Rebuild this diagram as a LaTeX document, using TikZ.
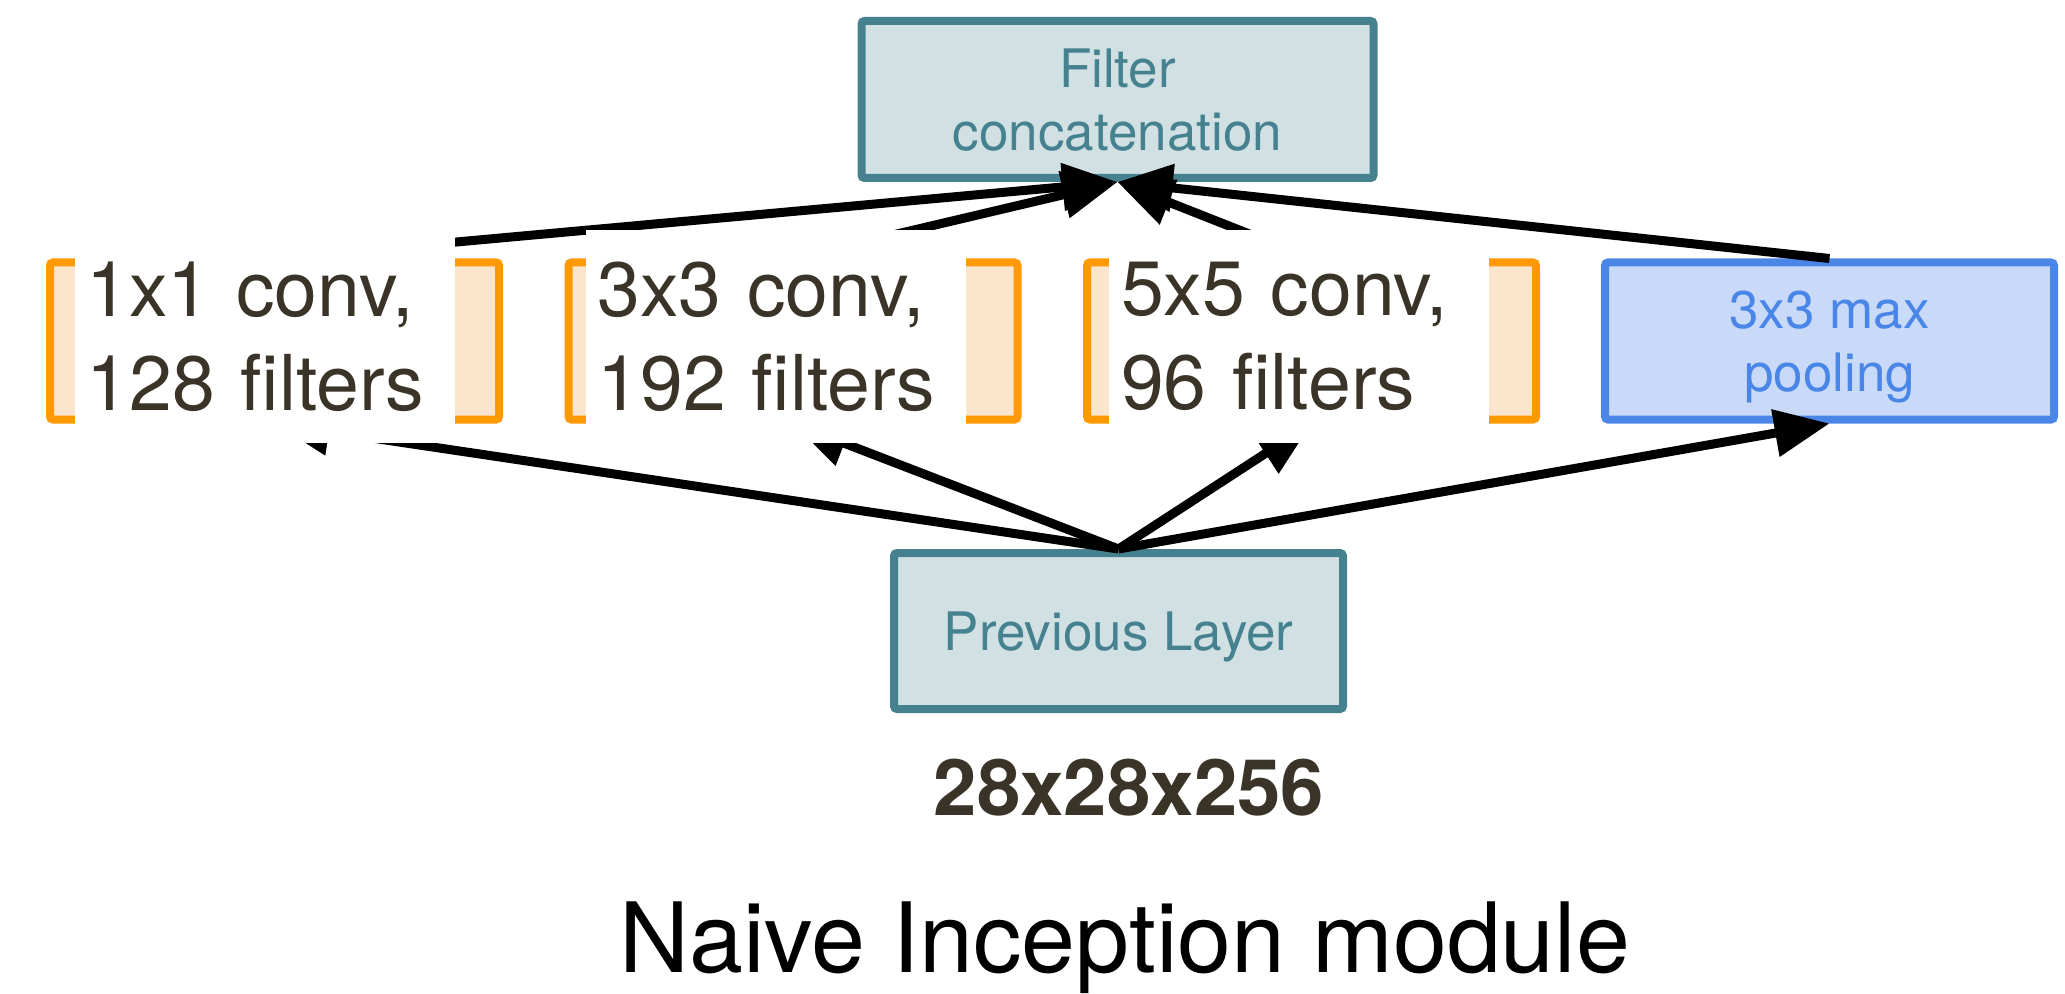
\documentclass[tikz,border=0pt]{standalone}
\usepackage{fontspec}
\setmainfont{TeX Gyre Heros}
\usetikzlibrary{arrows.meta}
\definecolor{tealline}{HTML}{45818E}
\definecolor{tealfill}{HTML}{D0E0E3}
\definecolor{orangeline}{HTML}{FF9900}
\definecolor{orangefill}{HTML}{FCE5CD}
\definecolor{blueline}{HTML}{4A86E8}
\definecolor{bluefill}{HTML}{C9DAF8}
\definecolor{labelink}{HTML}{3A3327}

\begin{document}
\begin{tikzpicture}[x=0.5pt,y=-0.5pt,
  box/.style={draw, line width=4pt, rounded corners=1.5pt,
    minimum width=224.5pt, minimum height=78.5pt, inner sep=0pt,
    align=center, text depth=0pt, font=\fontsize{26.5}{31.5}\selectfont},
  layerbox/.style={box, draw=tealline, fill=tealfill, text=tealline},
  convbox/.style={box, draw=orangeline, fill=orangefill},
  poolbox/.style={box, draw=blueline, fill=bluefill, text=blueline},
  convlabel/.style={fill=white, minimum width=190pt, minimum height=106.5pt,
    inner xsep=6pt, inner ysep=0pt, text width=178pt, align=left,
    text=labelink, font=\fontsize{38.5}{47}\selectfont},
  flow/.style={line width=4.5pt, -{Triangle[length=27.5pt,width=23pt]}},
]
\useasboundingbox (0,0) rectangle (2065,994);

% layer boxes
\node[layerbox, minimum width=256pt] (concat) at (1117.5,99.5) {Filter\\concatenation};
\node[convbox] (c1) at (274.5,341) {};
\node[convbox] (c2) at (793,341) {};
\node[convbox] (c3) at (1311.5,341) {};
\node[poolbox] (pool) at (1829.5,341) {3x3 max\\pooling};
\node[layerbox, minimum height=78pt] (prev) at (1118.5,631) {Previous Layer};

% data flow
\foreach \n in {c1,c2,c3,pool}
  \draw[flow] (prev.north) -- (\n.south);
\foreach \n in {c1,c2,c3,pool}
  \draw[flow] (\n.north) -- (concat.south);

% convolution labels
\node[convlabel] (l1) at (264.5,336.5) {1x1 conv,\\128 filters};
\node[convlabel] (l2) at (775.5,336.5) {3x3 conv,\\192 filters};
\node[convlabel] (l3) at (1299,336.5) {5x5 conv,\\96 filters};

% captions
\node[font=\bfseries\fontsize{39}{47}\selectfont, text=labelink, anchor=base]
  (dims) at (1129,815) {28x28x256};
\node[font=\fontsize{48.5}{58}\selectfont, anchor=base]
  (title) at (1125,972) {Naive Inception module};
\end{tikzpicture}
\end{document}
